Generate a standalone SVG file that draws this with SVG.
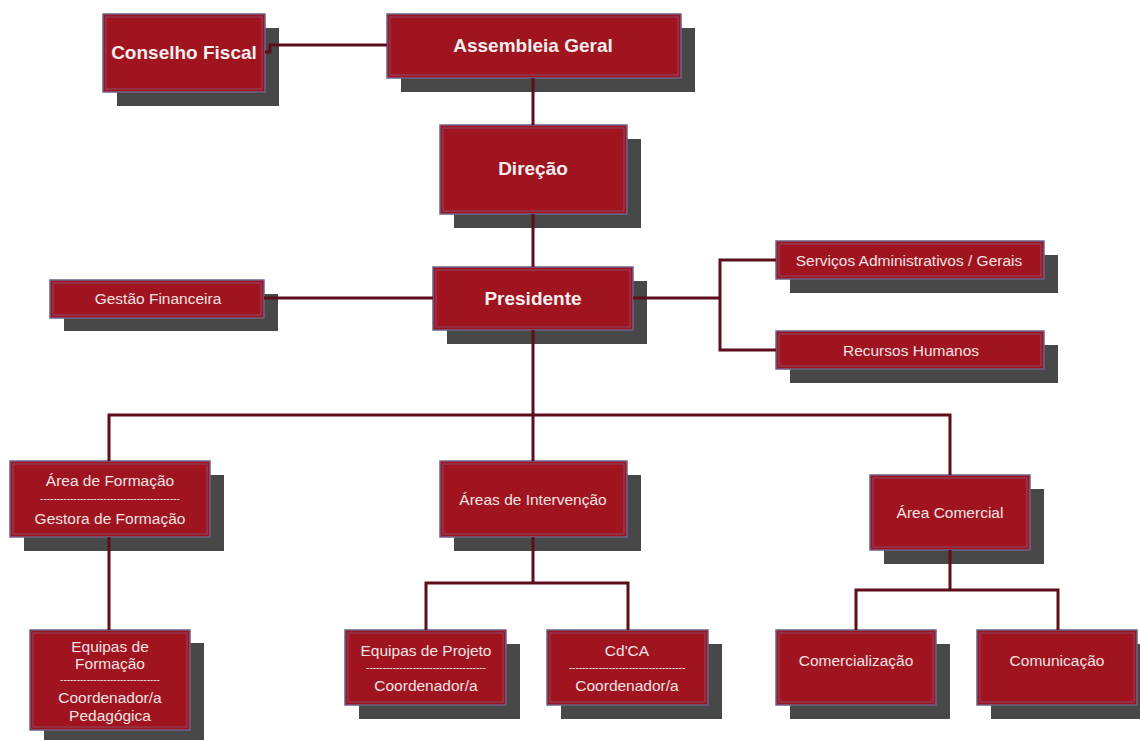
<svg xmlns="http://www.w3.org/2000/svg" width="1140" height="740" viewBox="0 0 1140 740">
<style>
.sh{fill:#484848}
.bx{fill:#a01420;stroke:#6e6288;stroke-width:1.5}
.in{fill:none;stroke:#8a4a6a;stroke-width:1}
.t{font-family:"Liberation Sans",Arial,sans-serif;font-size:15.5px;fill:#f3e2e2;text-anchor:middle}
.d{font-family:"Liberation Sans",Arial,sans-serif;font-size:10px;fill:#f3e2e2;text-anchor:middle}
.b{font-family:"Liberation Sans",Arial,sans-serif;font-size:19px;font-weight:bold;fill:#f7eeee;text-anchor:middle}
.c{fill:none;stroke:#5c0f1a;stroke-width:3}
</style>
<rect width="1140" height="740" fill="#ffffff"/>
<g id="conselho-fiscal">
<rect class="sh" x="117" y="28" width="162" height="78"/>
<rect class="bx" x="103" y="14" width="162" height="78"/>
<rect class="in" x="106" y="17" width="156" height="72"/>
<text class="b" x="184" y="59">Conselho Fiscal</text>
</g>
<g id="assembleia-geral">
<rect class="sh" x="401" y="28" width="294" height="64"/>
<rect class="bx" x="387" y="14" width="294" height="64"/>
<rect class="in" x="390" y="17" width="288" height="58"/>
<text class="b" x="533" y="52">Assembleia Geral</text>
</g>
<g id="direcao">
<rect class="sh" x="454" y="139" width="187" height="89"/>
<rect class="bx" x="440" y="125" width="187" height="89"/>
<rect class="in" x="443" y="128" width="181" height="83"/>
<text class="b" x="533" y="175">Direção</text>
</g>
<g id="presidente">
<rect class="sh" x="447" y="281" width="200" height="63"/>
<rect class="bx" x="433" y="267" width="200" height="63"/>
<rect class="in" x="436" y="270" width="194" height="57"/>
<text class="b" x="533" y="305">Presidente</text>
</g>
<g id="gestao-financeira">
<rect class="sh" x="64" y="294" width="214" height="37"/>
<rect class="bx" x="50" y="280" width="214" height="38"/>
<rect class="in" x="53" y="283" width="208" height="32"/>
<text class="t" x="158" y="304">Gestão Financeira</text>
</g>
<g id="servicos-administrativos">
<rect class="sh" x="790" y="255" width="268" height="38"/>
<rect class="bx" x="776" y="241" width="268" height="38"/>
<rect class="in" x="779" y="244" width="262" height="32"/>
<text class="t" x="909" y="266">Serviços Administrativos / Gerais</text>
</g>
<g id="recursos-humanos">
<rect class="sh" x="790" y="345" width="268" height="38"/>
<rect class="bx" x="776" y="331" width="268" height="38"/>
<rect class="in" x="779" y="334" width="262" height="32"/>
<text class="t" x="911" y="356">Recursos Humanos</text>
</g>
<g id="area-formacao">
<rect class="sh" x="24" y="475" width="200" height="76"/>
<rect class="bx" x="10" y="461" width="200" height="76"/>
<rect class="in" x="13" y="464" width="194" height="70"/>
<text class="t" x="110" y="486">Área de Formação</text>
<text class="d" x="110" y="502">------------------------------------------</text>
<text class="t" x="110" y="524">Gestora de Formação</text>
</g>
<g id="areas-intervencao">
<rect class="sh" x="454" y="475" width="187" height="76"/>
<rect class="bx" x="440" y="461" width="187" height="76"/>
<rect class="in" x="443" y="464" width="181" height="70"/>
<text class="t" x="533" y="505">Áreas de Intervenção</text>
</g>
<g id="area-comercial">
<rect class="sh" x="884" y="489" width="160" height="75"/>
<rect class="bx" x="870" y="475" width="160" height="75"/>
<rect class="in" x="873" y="478" width="154" height="69"/>
<text class="t" x="950" y="518">Área Comercial</text>
</g>
<g id="equipas-formacao">
<rect class="sh" x="44" y="643" width="160" height="97"/>
<rect class="bx" x="30" y="630" width="160" height="100"/>
<rect class="in" x="33" y="633" width="154" height="94"/>
<text class="t" x="110" y="652">Equipas de</text>
<text class="t" x="110" y="669">Formação</text>
<text class="d" x="110" y="683">------------------------------</text>
<text class="t" x="110" y="703">Coordenador/a</text>
<text class="t" x="110" y="721">Pedagógica</text>
</g>
<g id="equipas-projeto">
<rect class="sh" x="359" y="644" width="161" height="75"/>
<rect class="bx" x="345" y="630" width="161" height="75"/>
<rect class="in" x="348" y="633" width="155" height="69"/>
<text class="t" x="426" y="656">Equipas de Projeto</text>
<text class="d" x="426" y="671">------------------------------------</text>
<text class="t" x="426" y="691">Coordenador/a</text>
</g>
<g id="cdca">
<rect class="sh" x="561" y="644" width="161" height="75"/>
<rect class="bx" x="547" y="630" width="161" height="75"/>
<rect class="in" x="550" y="633" width="155" height="69"/>
<text class="t" x="627" y="656">Cd'CA</text>
<text class="d" x="627" y="671">-----------------------------------</text>
<text class="t" x="627" y="691">Coordenador/a</text>
</g>
<g id="comercializacao">
<rect class="sh" x="790" y="644" width="160" height="75"/>
<rect class="bx" x="776" y="630" width="160" height="75"/>
<rect class="in" x="779" y="633" width="154" height="69"/>
<text class="t" x="856" y="666">Comercialização</text>
</g>
<g id="comunicacao">
<rect class="sh" x="991" y="644" width="160" height="75"/>
<rect class="bx" x="977" y="630" width="160" height="75"/>
<rect class="in" x="980" y="633" width="154" height="69"/>
<text class="t" x="1057" y="666">Comunicação</text>
</g>
<g id="connectors">
<path class="c" d="M265 52 H270 V45 H387"/>
<path class="c" d="M533 78 V125 M533 214 V267"/>
<path class="c" d="M264 298 H433"/>
<path class="c" d="M633 298 H720 M776 260 H720 V350 H776"/>
<path class="c" d="M533 330 V461 M109 461 V415 H950 V475"/>
<path class="c" d="M109 537 V630"/>
<path class="c" d="M533 537 V583 M426 630 V583 H628 V630"/>
<path class="c" d="M950 550 V590 M856 630 V590 H1058 V630"/>
</g>
</svg>
